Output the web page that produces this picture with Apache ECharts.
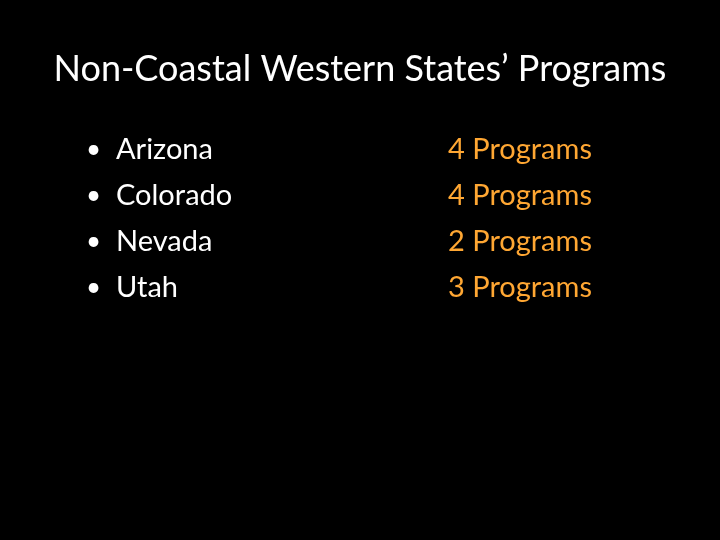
<!DOCTYPE html>
<html><head><meta charset="utf-8">
<script src="https://cdn.jsdelivr.net/npm/echarts@6/dist/echarts.min.js"></script>
<style>html,body{margin:0;background:#000}#container{width:720px;height:540px}</style>
</head><body><div id="container"></div>
<script>
var titleText = 'Non-Coastal Western States\u2019 Programs';
var states = ['Arizona', 'Colorado', 'Nevada', 'Utah'];
var programs = [4, 4, 2, 3];

var myChart = echarts.init(document.getElementById('container'));
var font = 'Lato, "Open Sans", sans-serif';

function col(x) {
    return states.map(function (s, i) { return [x, s, i]; });
}
function textSeries(x, color, size, fmt) {
    return {
        type: 'scatter', symbolSize: 0, silent: true,
        itemStyle: { opacity: 1 },
        data: col(x),
        label: {
            show: true, position: 'right', distance: 0, opacity: 1,
            color: color, fontSize: size, fontFamily: font,
            textBorderWidth: 0,
            formatter: fmt
        }
    };
}

var option = {
    backgroundColor: '#000',
    title: {
        text: titleText, left: 'center', top: 46,
        textStyle: { color: '#ffffff', fontSize: 36, fontWeight: 'normal', fontFamily: font }
    },
    grid: { left: 0, right: 0, top: 127, height: 184 },
    xAxis: { type: 'value', min: 0, max: 720, show: false },
    yAxis: { type: 'category', data: states, inverse: true, show: false },
    series: [
        textSeries(86, '#ffffff', 26, function () { return '\u2022'; }),
        textSeries(116, '#ffffff', 29, function (p) { return states[p.data[2]]; }),
        textSeries(448, '#ffa733', 29, function (p) { return programs[p.data[2]] + ' Programs'; })
    ]
};
myChart.setOption(option, true);
</script></body></html>
